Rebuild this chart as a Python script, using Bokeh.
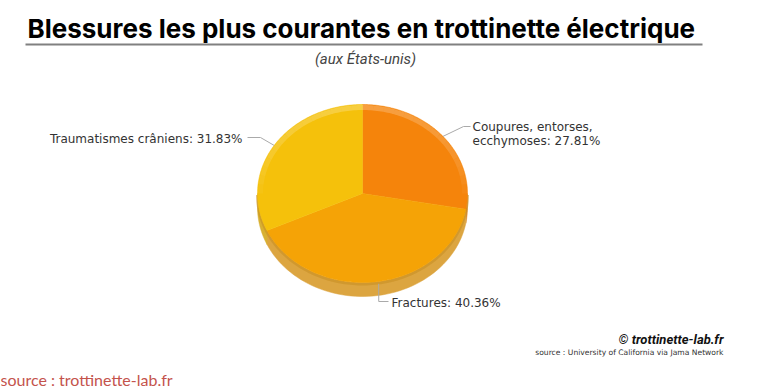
import numpy as np
from bokeh.plotting import figure
from bokeh.models import Range1d, Label
from bokeh.embed import file_html
from bokeh.resources import INLINE

# ---------------- data ----------------
categories = ["Coupures, entorses,\necchymoses", "Fractures", "Traumatismes crâniens"]
percentages = [27.81, 40.36, 31.83]
top_colors = ["#F5840B", "#F5A306", "#F5C10B"]
side_colors = ["#D98A30", "#DCA540", "#D8B032"]
title_text = "Blessures les plus courantes en trottinette électrique"
subtitle_text = "(aux États-unis)"
credit_text = "© trottinette-lab.fr"
source_text = "source : University of California via Jama Network"
footer_text = "source : trottinette-lab.fr"

# ---------------- figure ----------------
W, H = 769, 390
p = figure(width=W, height=H, x_range=Range1d(0, W), y_range=Range1d(H, 0),
           output_backend="svg", toolbar_location=None,
           x_axis_type=None, y_axis_type=None, min_border=0)
p.outline_line_color = None
p.background_fill_color = "white"
p.border_fill_color = "white"


def label(x, y, text, size, font, color, style="normal", align="left"):
    # y is the wanted baseline; compensate the renderer's baseline offset
    p.add_layout(Label(x=x, y=y - 0.38 * size, text=text, text_font=font,
                       text_font_size=f"{size}px", text_font_style=style,
                       text_color=color, text_baseline="alphabetic", text_align=align))


# ---------------- pie geometry ----------------
cx, cy, rx, ry, depth = 362, 193, 105, 89, 14


def ell(theta_deg, rxx=rx, ryy=ry, dy=0.0):
    th = np.radians(theta_deg)
    return cx + rxx * np.sin(th), cy - ryy * np.cos(th) + dy


cum = np.concatenate([[0], np.cumsum(percentages)]) / 100.0 * 360.0

# side (depth) of the pie : visible lower half, from 90 to 270 degrees
for i in range(len(percentages)):
    a0, a1 = max(cum[i], 90), min(cum[i + 1], 270)
    if a1 <= a0:
        continue
    t = np.linspace(a0, a1, 60)
    xt, yt = ell(t)
    xb, yb = ell(t[::-1], dy=depth)
    p.patch(np.concatenate([xt, xb]), np.concatenate([yt, yb]),
            fill_color=side_colors[i], line_color=side_colors[i], line_width=0.5)

# darker band just under the top face
t = np.linspace(90, 270, 120)
xs, ys = ell(t, dy=1.5)
p.line(xs, ys, line_color="#C68E20", line_width=3, line_alpha=0.55)

# top faces
for i in range(len(percentages)):
    t = np.linspace(cum[i], cum[i + 1], 120)
    xt, yt = ell(t)
    p.patch(np.concatenate([[cx], xt]), np.concatenate([[cy], yt]),
            fill_color=top_colors[i], line_color=top_colors[i], line_width=0.5)

# glossy rim highlight on the upper edge
segs_x, segs_y, alphas = [], [], []
edges = np.linspace(-120, 120, 41)
for a, b in zip(edges[:-1], edges[1:]):
    t = np.linspace(a, b, 6)
    x_, y_ = ell(t, rx - 3, ry - 3)
    segs_x.append(list(x_))
    segs_y.append(list(y_))
    m = np.radians((a + b) / 2)
    alphas.append(float(0.22 * max(np.cos(m), 0) ** 0.6))
p.multi_line(segs_x, segs_y, line_color="white", line_width=5, line_alpha=alphas)

# ---------------- leader lines + labels ----------------
mid = (cum[:-1] + cum[1:]) / 2
label_font = "DejaVu Sans"
lab_col = "#333333"
lead_col = "#AAAAAA"

# Coupures
mx, my = ell(mid[0])
p.line([mx, 463, 470], [my, 126, 126], line_color=lead_col, line_width=1)
lines0 = categories[0].split("\n")
label(472, 131, lines0[0], 12, label_font, lab_col)
label(472, 145, f"{lines0[1]}: {percentages[0]:.2f}%", 12, label_font, lab_col)

# Fractures
mx, my = ell(mid[1])
p.line([mx + 3, mx + 3, 388], [my + 2, 301, 301], line_color=lead_col, line_width=1)
label(391, 307, f"{categories[1]}: {percentages[1]:.2f}%", 12, label_font, lab_col)

# Traumatismes
mx, my = ell(mid[2])
p.line([mx, 260, 247], [my, 137, 137], line_color=lead_col, line_width=1)
label(242, 143, f"{categories[2]}: {percentages[2]:.2f}%", 12, label_font, lab_col, align="right")

# ---------------- titles ----------------
label(27, 38, title_text, 26, "Inter", "#000000", style="bold")
p.segment(x0=[25], y0=[44], x1=[702], y1=[44], line_color="#808080", line_width=2)
label(365, 64, subtitle_text, 15, "Roboto", "#444444", style="italic", align="center")

# ---------------- credits ----------------
label(723, 344, credit_text, 13, "Roboto", "#111111", style="bold italic", align="right")
label(723, 355, source_text, 7.6, "DejaVu Sans", "#333333", align="right")
label(0, 385, footer_text, 16, "Lato", "#C4534C")

open("out.html", "w").write(file_html(p, INLINE))
